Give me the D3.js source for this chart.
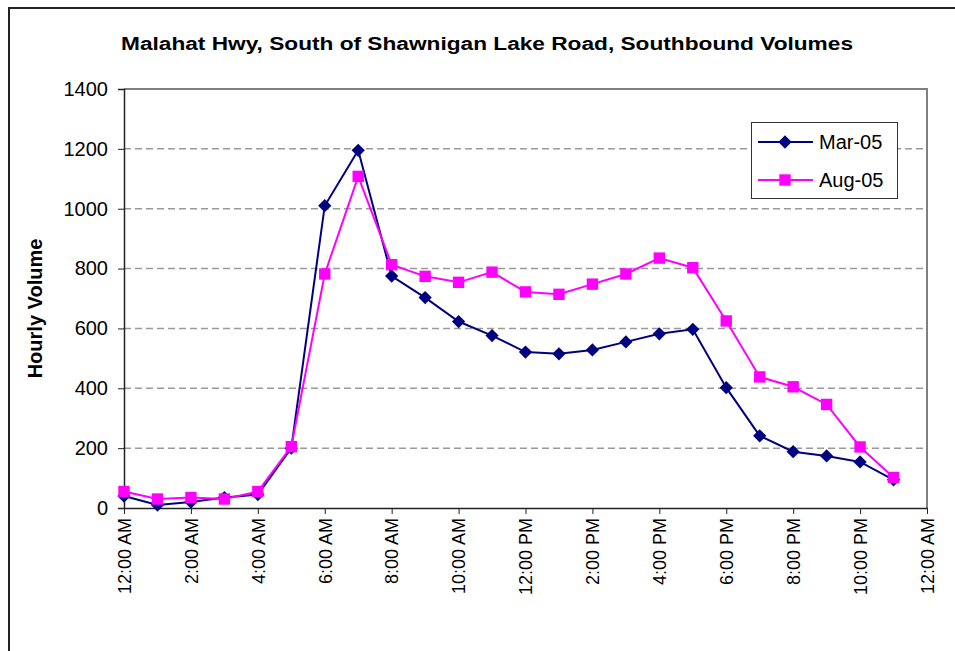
<!DOCTYPE html>
<html>
<head>
<meta charset="utf-8">
<script src="https://cdn.jsdelivr.net/npm/d3@7"></script>
<style>
  html, body { margin: 0; padding: 0; background: #fff; }
  svg { display: block; font-family: Arial, "Liberation Sans", sans-serif; }
</style>
</head>
<body>
<div class="container"></div>
<script>
// hourly volumes, 12:00 AM .. 11:00 PM
const hours = d3.range(0, 24);
const mar05 = [40, 10, 20, 35, 45, 200, 1010, 1195, 775, 703, 623, 576, 521, 515, 528, 555, 582, 597, 402, 241, 188, 174, 154, 94];
const aug05 = [55, 30, 35, 30, 55, 205, 782, 1108, 813, 774, 754, 788, 722, 714, 748, 782, 835, 803, 625, 438, 405, 346, 204, 102];
const tickHours = [0, 2, 4, 6, 8, 10, 12, 14, 16, 18, 20, 22, 24];
const tickLabels = ["12:00 AM", "2:00 AM", "4:00 AM", "6:00 AM", "8:00 AM", "10:00 AM", "12:00 PM",
    "2:00 PM", "4:00 PM", "6:00 PM", "8:00 PM", "10:00 PM", "12:00 AM"];
const yTicks = [0, 200, 400, 600, 800, 1000, 1200, 1400];
const seriesNames = ["Mar-05", "Aug-05"];

const chart = () => {
    const width = 955;
    const height = 651;

    const svg = d3.select('.container').append('svg').attr('width', width).attr('height', height);

    // outer chart border (only top and left visible in the frame)
    svg.append('rect').attr('x', 9).attr('y', 8).attr('width', 960).attr('height', 660)
        .attr('fill', 'none').attr('stroke', '#222').attr('stroke-width', 2);

    const x = d3.scaleLinear().domain([0, 24]).range([124, 927]);
    const y = d3.scaleLinear().domain([0, 1400]).range([508, 89]);

    // grid
    svg.append('g').selectAll('line').data(yTicks.filter(d => d > 0 && d < 1400)).enter().append('line')
        .attr('x1', x(0)).attr('x2', x(24)).attr('y1', d => y(d)).attr('y2', d => y(d))
        .attr('stroke', '#9a9a9a').attr('stroke-width', 1.5).attr('stroke-dasharray', '7,4');

    // plot frame top / right
    svg.append('path').attr('d', `M${x(0)},${y(1400)}H${x(24)}V${y(0)}`)
        .attr('fill', 'none').attr('stroke', '#808080').attr('stroke-width', 2);

    const yAxis = svg.append('g').attr('transform', `translate(${x(0)},0)`)
        .call(d3.axisLeft(y).tickValues(yTicks).tickSize(6).tickPadding(10).tickFormat(d3.format('d')));
    yAxis.select('.domain').attr('stroke', '#222').attr('stroke-width', 1.5);
    yAxis.selectAll('.tick line').attr('stroke', '#222');
    yAxis.selectAll('text').attr('font-size', 20).attr('fill', '#000').attr('font-family', 'Arial, "Liberation Sans", sans-serif');

    const xAxis = svg.append('g').attr('transform', `translate(0,${y(0)})`)
        .call(d3.axisBottom(x).tickValues(tickHours).tickSize(6).tickSizeOuter(0)
            .tickFormat((d, i) => tickLabels[i]));
    xAxis.select('.domain').attr('stroke', '#222').attr('stroke-width', 1.5);
    xAxis.selectAll('.tick line').attr('stroke', '#222');
    xAxis.selectAll('text').attr('font-size', 18).attr('fill', '#000')
        .attr('font-family', 'Arial, "Liberation Sans", sans-serif')
        .attr('transform', 'rotate(-90)').attr('text-anchor', 'end')
        .attr('x', -10).attr('y', 0).attr('dy', '0.35em');

    // series
    const line = d3.line().x((d, i) => x(hours[i])).y(d => y(d));
    const series = [
        { name: seriesNames[0], values: mar05, color: '#000080', shape: d3.symbolSquare, size: 88, rotate: 45 },
        { name: seriesNames[1], values: aug05, color: '#FF00FF', shape: d3.symbolSquare, size: 130, rotate: 0 }
    ];

    const drawSymbol = (sel, s) => sel.attr('d', d3.symbol().type(s.shape).size(s.size)).attr('fill', s.color);

    series.forEach(s => {
        const g = svg.append('g');
        g.append('path').datum(s.values).attr('d', line).attr('fill', 'none')
            .attr('stroke', s.color).attr('stroke-width', 2);
        g.selectAll('path.mark').data(s.values).enter().append('path').attr('class', 'mark')
            .attr('transform', (d, i) => `translate(${x(hours[i])},${y(d)}) rotate(${s.rotate})`)
            .call(drawSymbol, s);
    });

    // title
    svg.append('text').attr('x', 487).attr('y', 50).attr('text-anchor', 'middle')
        .attr('font-size', 18).attr('font-weight', 'bold')
        .attr('textLength', 732).attr('lengthAdjust', 'spacingAndGlyphs')
        .text('Malahat Hwy, South of Shawnigan Lake Road, Southbound Volumes');

    // y label
    svg.append('text').attr('transform', `translate(42,${(y(0) + y(1400)) / 2 + 10}) rotate(-90)`)
        .attr('text-anchor', 'middle').attr('font-size', 20).attr('font-weight', 'bold')
        .text('Hourly Volume');

    // legend
    const legend = svg.append('g');
    legend.append('rect').attr('x', 751.5).attr('y', 122.5).attr('width', 146).attr('height', 76)
        .attr('fill', '#fff').attr('stroke', '#333').attr('stroke-width', 1);
    series.forEach((s, i) => {
        const ly = 142 + i * 38;
        legend.append('line').attr('x1', 758).attr('x2', 813).attr('y1', ly).attr('y2', ly)
            .attr('stroke', s.color).attr('stroke-width', 2);
        legend.append('path').attr('transform', `translate(785,${ly}) rotate(${s.rotate})`).call(drawSymbol, s);
        legend.append('text').attr('x', 819).attr('y', ly).attr('dy', '0.35em')
            .attr('font-size', 20).text(s.name);
    });
}

chart();
</script>
</body>
</html>
